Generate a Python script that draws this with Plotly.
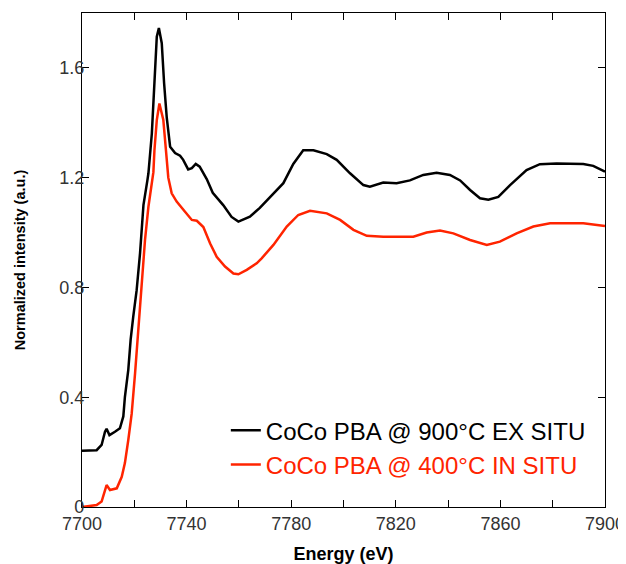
"""Spectres XANES normalisés au seuil K du Co (CoCo PBA)."""

import plotly.graph_objects as go

energy_ex_situ = [
    7700, 7705.6, 7707.5, 7708.8, 7709.4, 7710.5, 7712.6, 7714.5, 7715.8, 7716.4,
    7717.7, 7718.6, 7719.6, 7720.9, 7722.2, 7723.5, 7725.0, 7725.4, 7726.7, 7727.7,
    7728.6, 7729.4, 7730.5, 7731.4, 7732.4, 7733.7, 7735.6, 7737.5, 7738.7, 7740.6,
    7742.0, 7743.5, 7745.0, 7747.7, 7750.0, 7754.0, 7757.2, 7759.8, 7763.0, 7764.2,
    7768.0, 7772.0, 7777.0, 7780.8, 7784.6, 7788.5, 7793.6, 7797.4, 7802.5, 7807.6,
    7810.1, 7815.2, 7820.3, 7825.4, 7830.5, 7835.6, 7840.7, 7844.6, 7848.4, 7852.2,
    7855.4, 7859.2, 7863.7, 7870.0, 7875.1, 7881.5, 7891.7, 7895.5, 7900,
]
intensity_ex_situ = [
    0.205, 0.207, 0.226, 0.274, 0.285, 0.262, 0.274, 0.287, 0.33, 0.40,
    0.50, 0.61, 0.694, 0.79, 0.925, 1.10, 1.19, 1.216, 1.36, 1.544,
    1.714, 1.745, 1.69, 1.544, 1.42, 1.313, 1.29, 1.28, 1.265, 1.23,
    1.235, 1.25, 1.24, 1.195, 1.145, 1.10, 1.057, 1.04, 1.053, 1.058,
    1.09, 1.13, 1.18, 1.25, 1.30, 1.30, 1.286, 1.265, 1.216, 1.173,
    1.167, 1.182, 1.18, 1.19, 1.21, 1.218, 1.21, 1.19, 1.155, 1.125,
    1.12, 1.13, 1.173, 1.228, 1.249, 1.252, 1.25, 1.243, 1.222,
]

energy_in_situ = [
    7700, 7705.6, 7707.5, 7709.4, 7710.7, 7713.3, 7715.2, 7716.4, 7717.7, 7719.0,
    7720.3, 7721.5, 7722.8, 7724.1, 7725.4, 7726.7, 7727.3, 7727.7, 7728.6, 7729.6,
    7731.1, 7732.1, 7733.0, 7734.3, 7736.2, 7739.4, 7742.0, 7743.9, 7746.4, 7749.0,
    7751.5, 7754.7, 7757.9, 7759.8, 7763.0, 7766.8, 7768.7, 7773.2, 7778.3, 7782.7,
    7787.2, 7793.6, 7798.7, 7803.8, 7808.9, 7815.2, 7826.7, 7831.8, 7836.9, 7842.0,
    7848.4, 7854.8, 7859.8, 7866.2, 7872.6, 7879.0, 7891.7, 7900,
]
intensity_in_situ = [
    0.0, 0.007, 0.02, 0.08, 0.062, 0.068, 0.11, 0.16, 0.244, 0.34,
    0.488, 0.645, 0.827, 0.973, 1.094, 1.19, 1.22, 1.30, 1.41, 1.47,
    1.41, 1.30, 1.20, 1.143, 1.113, 1.076, 1.046, 1.043, 1.02, 0.96,
    0.912, 0.876, 0.851, 0.848, 0.864, 0.888, 0.906, 0.955, 1.022, 1.064,
    1.079, 1.07, 1.046, 1.01, 0.988, 0.985, 0.985, 1.0, 1.007, 0.997,
    0.973, 0.955, 0.967, 0.997, 1.022, 1.034, 1.034, 1.024,
]

x_ticks = list(range(7700, 7901, 20))
x_labels = [str(v) if (v - 7700) % 40 == 0 else "" for v in x_ticks]
y_ticks = [0, 0.4, 0.8, 1.2, 1.6]
y_labels = ["0", "0.4", "0.8", "1.2", "1.6"]

RED = "#ff2400"
FONT = "Liberation Sans, Arial, sans-serif"

fig = go.Figure()
fig.add_trace(
    go.Scatter(
        x=energy_ex_situ,
        y=intensity_ex_situ,
        mode="lines",
        line={"color": "black", "width": 2.5},
        name="CoCo PBA @ 900°C EX SITU",
    )
)
fig.add_trace(
    go.Scatter(
        x=energy_in_situ,
        y=intensity_in_situ,
        mode="lines",
        line={"color": RED, "width": 2.5},
        name=f"<span style='color:{RED}'>CoCo PBA @ 400°C IN SITU</span>",
    )
)

_axis = {
    "showline": True,
    "linecolor": "black",
    "linewidth": 1.3,
    "mirror": "ticks",
    "ticks": "inside",
    "ticklen": 7,
    "tickcolor": "black",
    "tickwidth": 1.2,
    "showgrid": False,
    "zeroline": False,
    "automargin": False,
    "tickfont": {"family": FONT, "size": 18, "color": "#333333"},
}

fig.update_xaxes(
    _axis,
    range=[7700, 7900],
    tickvals=x_ticks,
    ticktext=x_labels,
    title={"text": "<b>Energy (eV)</b>", "font": {"family": FONT, "size": 18, "color": "black"}, "standoff": 23},
)
fig.update_yaxes(
    _axis,
    range=[0, 1.8],
    tickvals=y_ticks,
    ticktext=y_labels,
    ticklabelstandoff=-7,
    title={
        "text": "<b>Normalized intensity (a.u.)</b>",
        "font": {"family": FONT, "size": 14.5, "color": "black"},
        "standoff": 30,
    },
)

# la page a une marge de 8 px : on réduit la figure d'autant
fig.update_layout(
    width=618,
    height=556,
    margin={"l": 74, "r": 21, "t": 5, "b": 57},
    paper_bgcolor="white",
    plot_bgcolor="white",
    showlegend=True,
    legend={
        "x": 0.275,
        "y": 0.12,
        "xanchor": "left",
        "yanchor": "middle",
        "bgcolor": "rgba(0,0,0,0)",
        "font": {"family": FONT, "size": 24, "color": "black"},
        "tracegroupgap": 0,
    },
)

fig.write_html("out.html")
